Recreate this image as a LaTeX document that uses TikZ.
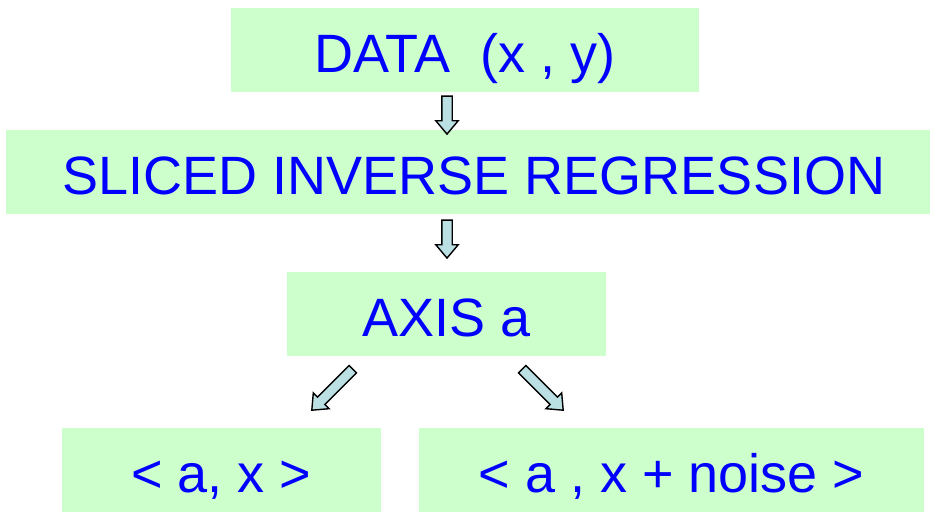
\documentclass[tikz,border=0pt]{standalone}
\usepackage{fontspec}
\setmainfont{Liberation Sans}
\usetikzlibrary{shapes.arrows}
\definecolor{boxgreen}{RGB}{204,255,204}
\definecolor{arrowblue}{RGB}{187,224,227}
\definecolor{textblue}{RGB}{0,0,255}
\tikzset{
    stagebox/.style={fill=boxgreen, text=textblue, inner sep=0pt, minimum height=84pt,
        text height=50pt, text depth=5pt, font=\fontsize{54}{60}\selectfont},
    blockarrow/.style={single arrow, draw=black, fill=arrowblue, line width=1.4pt,
        inner sep=0pt, text height=9pt, text depth=0pt, single arrow head extend=6pt,
        single arrow tip angle=80, minimum height=#1, midway, sloped, allow upside down}
}
\begin{document}
\begin{tikzpicture}[x=1pt, y=-1pt]
         \useasboundingbox (0, 0) rectangle (932, 512);
         \node[stagebox, minimum width=468pt] (data) at (465, 49.5){DATA\ \ (x , y)};
         \node[stagebox, minimum width=924pt] (sir) at (468, 172){\hspace*{12pt}SLICED INVERSE REGRESSION};
         \node[stagebox, minimum width=319pt] (axis) at (446.5, 314){AXIS a};
         \node[stagebox, minimum width=319pt] (proj) at (221.5, 470){< a, x >};
         \node[stagebox, minimum width=505pt] (noisy) at (671.5, 470){< a , x + noise >};
             \coordinate (a1) at (447, 93);
             \coordinate (b1) at (447, 131);
             \coordinate (a2) at (447, 217);
             \coordinate (b2) at (447, 255);
             \coordinate (a3) at (355, 367);
             \coordinate (b3) at (314, 408);
             \coordinate (a4) at (520, 367);
             \coordinate (b4) at (561, 408);
             \path (a1) -- (b1) node[blockarrow=38pt] (d1){};
             \path (a2) -- (b2) node[blockarrow=38pt] (d2){};
             \path (a3) -- (b3) node[blockarrow=58pt] (d3){};
             \path (a4) -- (b4) node[blockarrow=58pt] (d4){};
     \end{tikzpicture}
\end{document}
